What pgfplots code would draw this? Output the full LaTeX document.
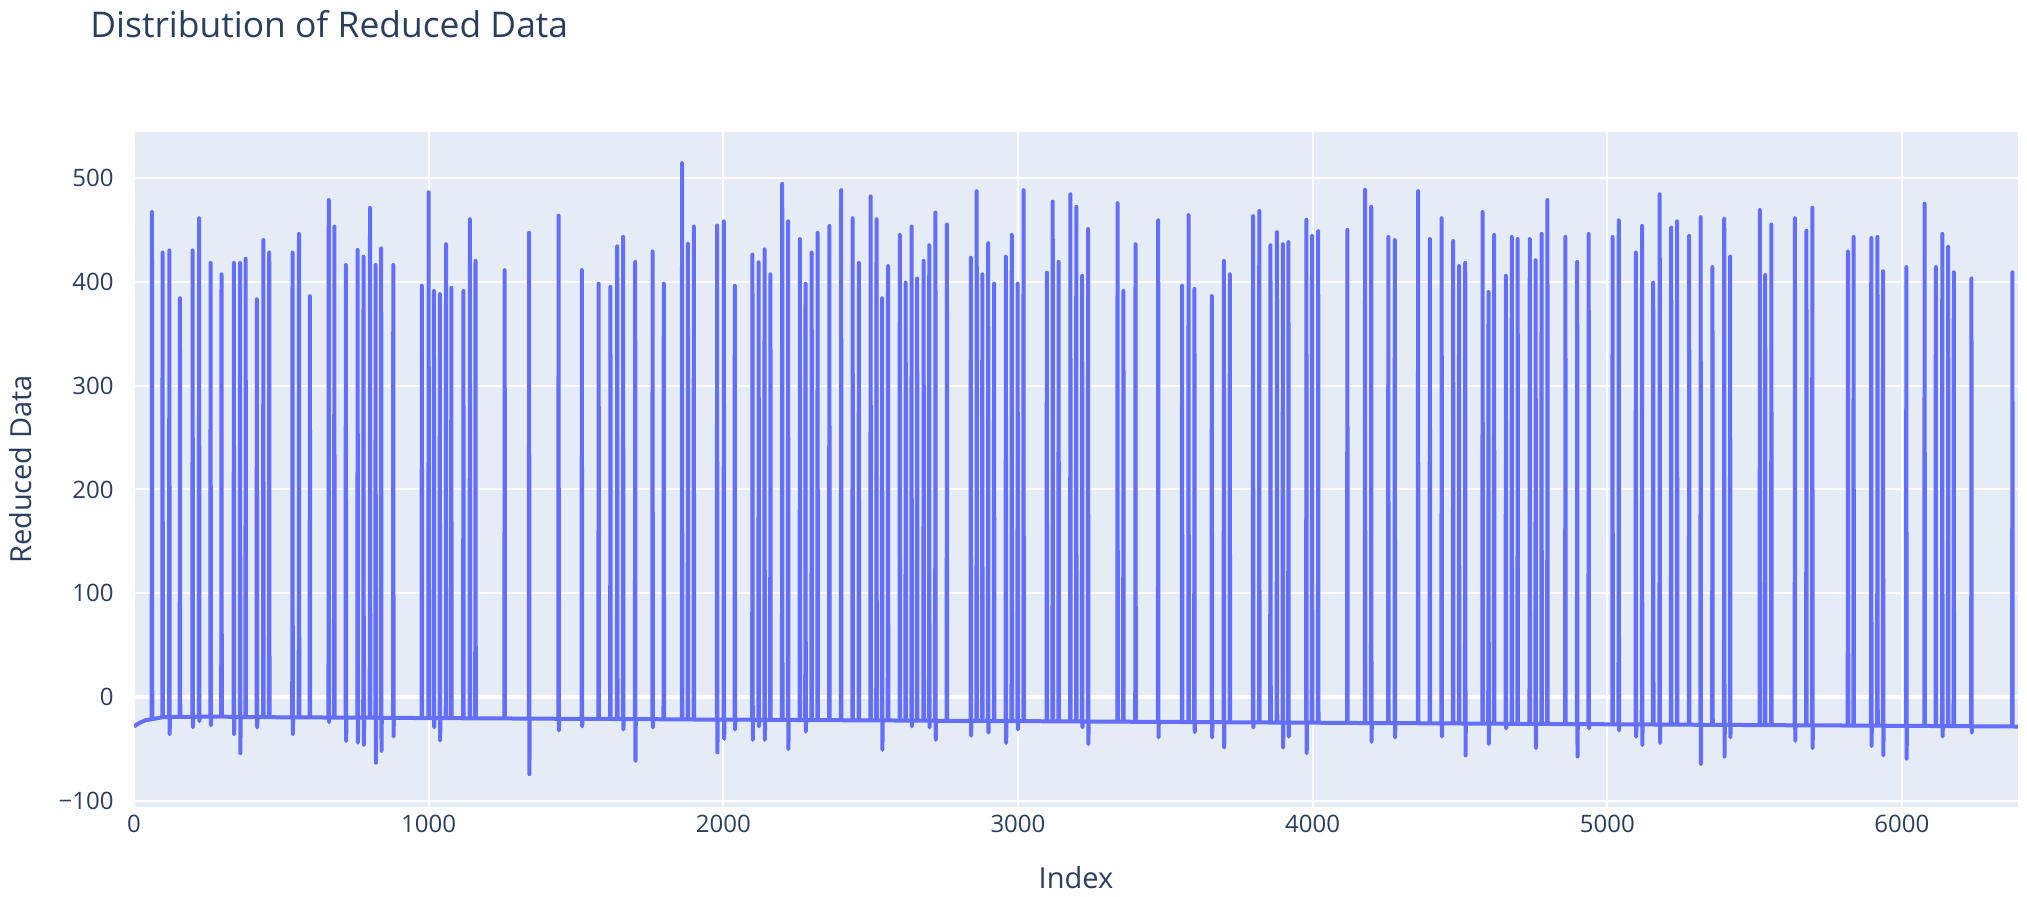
\documentclass[border=0pt]{standalone}
\usepackage{pgfplots}
\pgfplotsset{compat=1.18}
\usepackage{fontspec}
\setmainfont{Open Sans}
\definecolor{plotbg}{HTML}{E5ECF6}
\definecolor{txt}{HTML}{2A3F5F}
\definecolor{trace}{HTML}{636EFA}
\begin{document}
\begin{tikzpicture}
\begin{axis}[
  scale only axis,
  width=942bp, height=337.5bp,
  xmin=0, xmax=6394,
  ymin=-105.6, ymax=544,
  axis background/.style={fill=plotbg},
  axis line style={draw=none},
  major tick length=0pt,
  grid=major,
  major grid style={white, line width=1bp},
  xtick={0,1000,2000,3000,4000,5000,6000},
  xticklabels={0,1000,2000,3000,4000,5000,6000},
  ytick={-100,0,100,200,300,400,500},
  yticklabels={−100,0,100,200,300,400,500},
  extra y ticks={0},
  extra y tick labels={},
  extra y tick style={major grid style={white, line width=2bp}},
  xticklabel style={font=\fontsize{12bp}{14bp}\selectfont, text=txt, anchor=center, yshift=-8.3bp},
  yticklabel style={font=\fontsize{12bp}{14bp}\selectfont, text=txt, anchor=east, inner sep=0pt, xshift=-10bp},
  xlabel={Index},
  ylabel={Reduced Data},
  xlabel style={font=\fontsize{14.5bp}{16bp}\selectfont, text=txt, at={(axis description cs:0.5,-0.104)}, anchor=center},
  ylabel style={font=\fontsize{14.5bp}{16bp}\selectfont, text=txt, at={(axis description cs:-0.06,0.5)}, anchor=center},
]
\addplot[trace, line width=2bp, line join=round, mark=none] coordinates {
(0,-28) (20,-24.5) (40,-22)
(60,-21.2) (61,467) (62,-21.1)
(96,-19.2) (97,428) (98,-19.2)
(119,-19) (120,430) (121,-35.6) (122,-19)
(155,-18.9) (156,384) (157,-18.9)
(198,-18.8) (199,430) (200,-28.8) (201,-18.8)
(220,-18.7) (221,461) (222,-23) (223,-18.7)
(259,-18.6) (260,418) (261,-27) (262,-18.6)
(296,-18.5) (297,407) (298,-18.5)
(338,-19) (339,418) (340,-35.6) (341,-19)
(359,-19) (360,418) (361,-53.7) (362,-19)
(378,-19.1) (379,422) (380,-19.1)
(416,-19.1) (417,383) (418,-29) (419,-19.1)
(438,-19.2) (439,440) (440,-19.2)
(458,-19.2) (459,428) (460,-19.2)
(537,-19.3) (538,428) (539,-35.6) (540,-19.3)
(559,-19.3) (560,446) (561,-19.3)
(596,-19.4) (597,386) (598,-19.4)
(660,-19.5) (661,478.5) (662,-24) (663,-19.5)
(679,-19.5) (680,453) (681,-19.5)
(718,-19.6) (719,416) (720,-42) (721,-19.6)
(758,-19.6) (759,430.5) (760,-43.8) (761,-19.6)
(778,-19.7) (779,424) (780,-46) (781,-19.7)
(800,-19.7) (801,471) (802,-19.7)
(819,-19.7) (820,416) (821,-63) (822,-19.7)
(838,-19.8) (839,432) (840,-51.5) (841,-19.8)
(879,-19.8) (880,416) (881,-37.8) (882,-19.8)
(976,-20) (977,396) (978,-20)
(999,-20) (1000,486) (1001,-20)
(1017,-20) (1018,391) (1019,-29) (1020,-20)
(1037,-20.1) (1038,388) (1039,-41.6) (1040,-20.1)
(1058,-20.1) (1059,436) (1060,-20.1)
(1076,-20.1) (1077,394) (1078,-20.1)
(1117,-20.2) (1118,391) (1119,-20.2)
(1139,-20.2) (1140,460) (1141,-20.2)
(1158,-20.2) (1159,420) (1160,-20.2)
(1257,-20.4) (1258,411) (1259,-20.4)
(1340,-20.5) (1341,447) (1342,-74) (1343,-20.5)
(1440,-20.7) (1441,463.5) (1442,-32) (1443,-20.7)
(1519,-20.8) (1520,411) (1521,-28) (1522,-20.8)
(1576,-20.9) (1577,398) (1578,-20.9)
(1616,-20.9) (1617,395) (1618,-20.9)
(1639,-21) (1640,434) (1641,-21)
(1659,-21) (1660,443) (1661,-31) (1662,-21)
(1700,-21.1) (1701,419) (1702,-61) (1703,-21.1)
(1759,-21.1) (1760,429) (1761,-29) (1762,-21.1)
(1797,-21.2) (1798,398) (1799,-21.2)
(1859,-21.3) (1860,514) (1861,-21.3)
(1879,-21.3) (1880,436.5) (1881,-21.3)
(1899,-21.4) (1900,453) (1901,-21.4)
(1978,-21.5) (1979,454) (1980,-53) (1981,-21.5)
(2001,-21.5) (2002,458) (2003,-40) (2004,-21.5)
(2038,-21.6) (2039,396) (2040,-31) (2041,-21.6)
(2098,-21.6) (2099,426) (2100,-41) (2101,-21.6)
(2119,-21.7) (2120,418.5) (2121,-28) (2122,-21.7)
(2139,-21.7) (2140,431) (2141,-41) (2142,-21.7)
(2159,-21.7) (2160,407) (2161,-21.7)
(2199,-21.8) (2200,494) (2201,-21.8)
(2219,-21.8) (2220,458) (2221,-50) (2222,-21.8)
(2259,-21.9) (2260,441) (2261,-21.9)
(2278,-21.9) (2279,398) (2280,-33) (2281,-21.9)
(2299,-22) (2300,428) (2301,-22)
(2319,-22) (2320,447) (2321,-22)
(2359,-22) (2360,453.6) (2361,-22)
(2399,-22.1) (2400,488) (2401,-22.1)
(2438,-22.2) (2439,461) (2440,-22.2)
(2459,-22.2) (2460,418) (2461,-22.2)
(2499,-22.3) (2500,482) (2501,-22.3)
(2519,-22.3) (2520,460) (2521,-22.3)
(2538,-22.3) (2539,384) (2540,-50.6) (2541,-22.3)
(2558,-22.3) (2559,415) (2560,-22.3)
(2598,-22.4) (2599,445) (2600,-22.4)
(2618,-22.4) (2619,399) (2620,-22.4)
(2638,-22.5) (2639,453) (2640,-28) (2641,-22.5)
(2657,-22.5) (2658,403) (2659,-22.5)
(2679,-22.5) (2680,420) (2681,-22.5)
(2698,-22.5) (2699,435) (2700,-29) (2701,-22.5)
(2719,-22.6) (2720,466.5) (2721,-41) (2722,-22.6)
(2758,-22.6) (2759,455) (2760,-22.6)
(2839,-22.8) (2840,423) (2841,-37) (2842,-22.8)
(2859,-22.8) (2860,487) (2861,-22.8)
(2878,-22.8) (2879,407) (2880,-22.8)
(2898,-22.8) (2899,437) (2900,-34) (2901,-22.8)
(2918,-22.9) (2919,398) (2920,-22.9)
(2958,-22.9) (2959,424) (2960,-44) (2961,-22.9)
(2978,-23) (2979,445) (2980,-23)
(2998,-23) (2999,398) (3000,-31) (3001,-23)
(3018,-23) (3019,488) (3020,-23)
(3097,-23.1) (3098,408.6) (3099,-23.1)
(3117,-23.2) (3118,477) (3119,-23.2)
(3137,-23.2) (3138,419) (3139,-23.2)
(3177,-23.3) (3178,484) (3179,-23.3)
(3197,-23.3) (3198,472) (3199,-23.3)
(3217,-23.3) (3218,405.6) (3219,-29) (3220,-23.3)
(3237,-23.4) (3238,450.6) (3239,-45) (3240,-23.4)
(3337,-23.5) (3338,475.5) (3339,-23.5)
(3357,-23.5) (3358,391) (3359,-23.5)
(3398,-23.6) (3399,436) (3400,-23.6)
(3475,-23.7) (3476,459) (3477,-38.6) (3478,-23.7)
(3556,-23.8) (3557,396) (3558,-23.8)
(3578,-23.9) (3579,464) (3580,-23.9)
(3598,-23.9) (3599,393) (3600,-33.5) (3601,-23.9)
(3657,-24) (3658,386) (3659,-38.6) (3660,-24)
(3698,-24) (3699,420) (3700,-48.5) (3701,-24)
(3718,-24.1) (3719,407) (3720,-24.1)
(3797,-24.2) (3798,463) (3799,-29) (3800,-24.2)
(3818,-24.2) (3819,468) (3820,-24.2)
(3856,-24.3) (3857,435) (3858,-24.3)
(3878,-24.3) (3879,447.6) (3880,-24.3)
(3898,-24.3) (3899,436) (3900,-48.5) (3901,-24.3)
(3917,-24.4) (3918,438) (3919,-37.8) (3920,-24.4)
(3978,-24.5) (3979,459.6) (3980,-53.7) (3981,-24.5)
(3997,-24.5) (3998,444) (3999,-24.5)
(4018,-24.5) (4019,448.5) (4020,-24.5)
(4117,-24.7) (4118,449.8) (4119,-24.7)
(4177,-24.8) (4178,488.4) (4179,-24.8)
(4198,-24.8) (4199,472) (4200,-43) (4201,-24.8)
(4256,-24.9) (4257,443) (4258,-24.9)
(4278,-24.9) (4279,440) (4280,-38.6) (4281,-24.9)
(4357,-25) (4358,487) (4359,-25)
(4397,-25.1) (4398,441) (4399,-25.1)
(4437,-25.2) (4438,461) (4439,-37.8) (4440,-25.2)
(4476,-25.2) (4477,439) (4478,-25.2)
(4496,-25.2) (4497,415) (4498,-25.2)
(4517,-25.3) (4518,418) (4519,-56) (4520,-25.3)
(4576,-25.4) (4577,467) (4578,-25.4)
(4596,-25.4) (4597,390) (4598,-45) (4599,-25.4)
(4615,-25.4) (4616,445) (4617,-25.4)
(4655,-25.5) (4656,405.6) (4657,-30) (4658,-25.5)
(4675,-25.5) (4676,443) (4677,-25.5)
(4695,-25.5) (4696,441) (4697,-25.5)
(4736,-25.6) (4737,441) (4738,-25.6)
(4756,-25.6) (4757,420.6) (4758,-49) (4759,-25.6)
(4776,-25.7) (4777,446) (4778,-25.7)
(4796,-25.7) (4797,478.5) (4798,-25.7)
(4857,-25.8) (4858,443) (4859,-25.8)
(4897,-25.8) (4898,419) (4899,-57) (4900,-25.8)
(4936,-25.9) (4937,446) (4938,-30) (4939,-25.9)
(5017,-26) (5018,443) (5019,-26)
(5038,-26.1) (5039,459) (5040,-32) (5041,-26.1)
(5096,-26.1) (5097,428) (5098,-38) (5099,-26.1)
(5117,-26.2) (5118,453.6) (5119,-46) (5120,-26.2)
(5155,-26.2) (5156,399) (5157,-26.2)
(5177,-26.3) (5178,484) (5179,-44) (5180,-26.3)
(5216,-26.3) (5217,452) (5218,-26.3)
(5236,-26.4) (5237,458) (5238,-26.4)
(5277,-26.4) (5278,444) (5279,-26.4)
(5316,-26.5) (5317,462) (5318,-64) (5319,-26.5)
(5356,-26.5) (5357,414) (5358,-26.5)
(5396,-26.6) (5397,460.5) (5398,-57) (5399,-26.6)
(5416,-26.6) (5417,424) (5418,-38.6) (5419,-26.6)
(5517,-26.8) (5518,469) (5519,-26.8)
(5535,-26.8) (5536,406.4) (5537,-26.8)
(5556,-26.8) (5557,455) (5558,-26.8)
(5636,-27) (5637,461) (5638,-42) (5639,-27)
(5675,-27) (5676,449) (5677,-27)
(5695,-27) (5696,471) (5697,-49) (5698,-27)
(5816,-27.2) (5817,429) (5818,-27.2)
(5835,-27.3) (5836,443) (5837,-27.3)
(5895,-27.3) (5896,442) (5897,-47) (5898,-27.3)
(5916,-27.4) (5917,443) (5918,-27.4)
(5935,-27.4) (5936,410) (5937,-56) (5938,-27.4)
(6014,-27.5) (6015,414) (6016,-59) (6017,-27.5)
(6076,-27.6) (6077,475) (6078,-27.6)
(6114,-27.7) (6115,414) (6116,-27.7)
(6136,-27.7) (6137,446) (6138,-37.8) (6139,-27.7)
(6156,-27.7) (6157,433.5) (6158,-27.7)
(6175,-27.8) (6176,409) (6177,-27.8)
(6235,-27.9) (6236,403) (6237,-34) (6238,-27.9)
(6374,-28.1) (6375,409) (6376,-28.1)
(6394,-28.3)
};
\end{axis}
\node[anchor=west, text=txt, font=\fontsize{17.7bp}{20bp}\selectfont, inner sep=0pt]
  at ([shift={(-22bp,53.7bp)}]current axis.north west) {Distribution of Reduced Data};
\pgfresetboundingbox
\path ([shift={(-67bp,-45bp)}]current axis.south west) rectangle ([shift={(4.5bp,66bp)}]current axis.north east);
\end{tikzpicture}
\end{document}
